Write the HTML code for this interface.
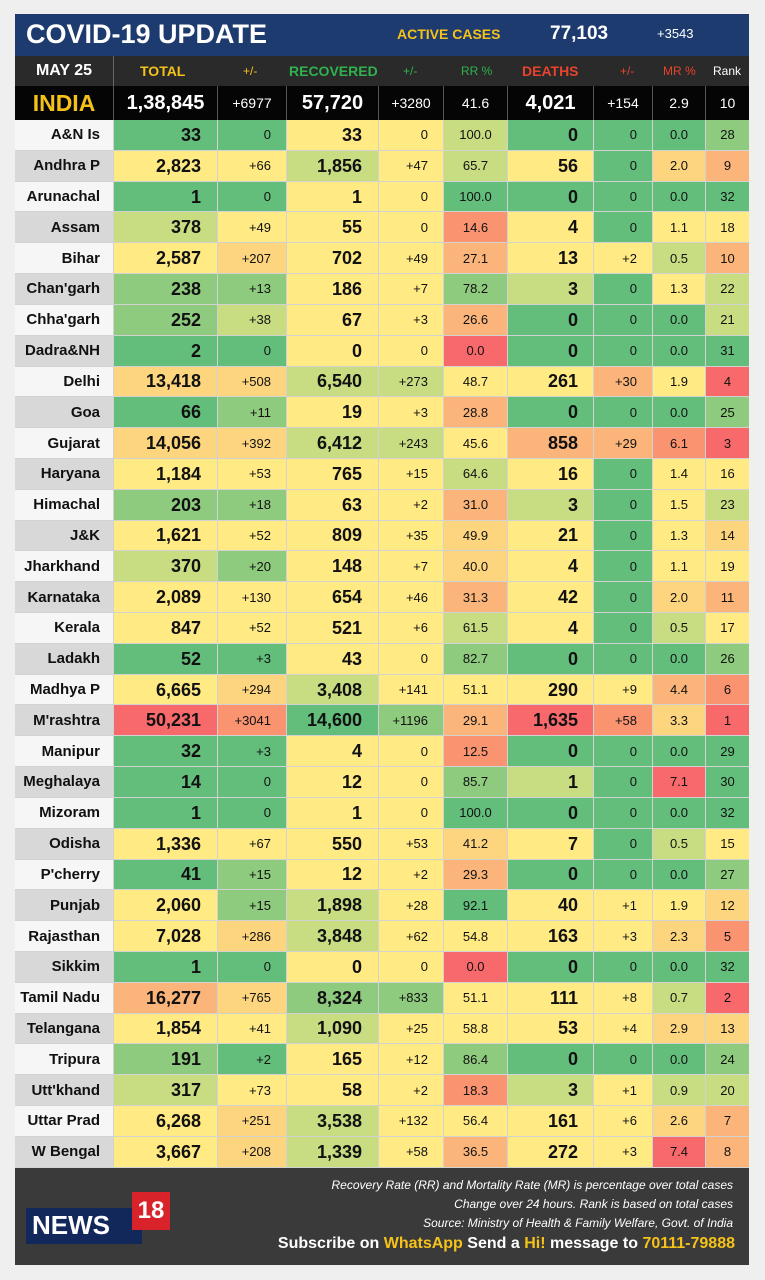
<!DOCTYPE html>
<html><head><meta charset="utf-8">
<style>
*{margin:0;padding:0;box-sizing:border-box}
body{width:765px;height:1280px;background:#efefef;position:relative;overflow:hidden;font-family:"Liberation Sans Narrow","Liberation Sans",sans-serif;color:#111}
.abs{position:absolute}
#title{left:15px;top:14px;width:734px;height:42px;background:#1e3b6f}
#hdr{left:15px;top:56px;width:734px;height:30px;background:#2a2a2a}
#ind{left:15px;top:86px;width:734px;height:34px;background:#050505}
#tbl{left:15px;top:120px;width:734px}
.r{display:flex;height:30.82px}
.r>*{display:flex;align-items:center;border-right:1px solid #d2d2d2;border-bottom:1px solid #d2d2d2;height:100%;font-style:normal;line-height:1}
.r>*:nth-child(1){width:99px;justify-content:flex-end;padding-right:13px;font-weight:bold;font-size:15px}
.r>*:nth-child(2){width:104px;justify-content:flex-end;padding-right:16px;font-weight:bold;font-size:18px}
.r>*:nth-child(3){width:69px;justify-content:flex-end;padding-right:15px;font-size:13px}
.r>*:nth-child(4){width:92px;justify-content:flex-end;padding-right:16px;font-weight:bold;font-size:18px}
.r>*:nth-child(5){width:65px;justify-content:flex-end;padding-right:15px;font-size:13px}
.r>*:nth-child(6){width:64px;justify-content:center;font-size:13px}
.r>*:nth-child(7){width:86px;justify-content:flex-end;padding-right:15px;font-weight:bold;font-size:18px}
.r>*:nth-child(8){width:59px;justify-content:flex-end;padding-right:15px;font-size:13px}
.r>*:nth-child(9){width:53px;justify-content:center;font-size:13px}
.r>*:nth-child(10){width:43px;justify-content:center;font-size:13px;border-right:none}
.r:nth-child(odd)>*:nth-child(1){background:#f6f6f6}
.r:nth-child(even)>*:nth-child(1){background:#d8d8d8}
.G{background:#63be7b}.H{background:#8fcb7e}.L{background:#c8dd82}.Y{background:#ffea84}
.Q{background:#fdd57f}.O{background:#fbb57a}.o{background:#f99370}.R{background:#f8696b}
#hdr .c,#ind .c{position:absolute;top:0;height:100%;display:flex;align-items:center}
#ind .c{color:#fff;font-weight:bold;font-size:20px;border-right:1px solid #555}
#ind .s{font-weight:normal;font-size:14px}
#foot{left:15px;top:1168px;width:734px;height:97px;background:#3a3a3a;color:#fff}
.fl{position:absolute;right:16px;font-style:italic;font-size:12px;white-space:nowrap}
</style></head><body>
<div id="title" class="abs">
  <div class="abs" style="left:11px;top:5px;color:#fff;font-weight:bold;font-size:27px;font-family:'Liberation Sans',sans-serif">COVID-19 UPDATE</div>
  <div class="abs" style="left:382px;top:12px;color:#f5c21a;font-weight:bold;font-size:14px">ACTIVE CASES</div>
  <div class="abs" style="left:535px;top:9px;color:#fff;font-weight:bold;font-size:19px">77,103</div>
  <div class="abs" style="left:642px;top:12px;color:#fff;font-size:13px">+3543</div>
</div>
<div id="hdr" class="abs">
  <div class="c" style="left:0;width:99px;justify-content:center;color:#fff;font-weight:bold;font-size:16px;border-right:1px solid #666">MAY 25</div>
  <div class="c" style="left:125px;color:#f5c21a;font-weight:bold;font-size:14px">TOTAL</div>
  <div class="c" style="left:228px;color:#f5c21a;font-size:12px">+/-</div>
  <div class="c" style="left:274px;color:#2fb14d;font-weight:bold;font-size:14px">RECOVERED</div>
  <div class="c" style="left:388px;color:#2fb14d;font-size:12px">+/-</div>
  <div class="c" style="left:446px;color:#2fb14d;font-size:12px">RR %</div>
  <div class="c" style="left:507px;color:#e8432c;font-weight:bold;font-size:14px">DEATHS</div>
  <div class="c" style="left:605px;color:#e8432c;font-size:12px">+/-</div>
  <div class="c" style="left:648px;color:#e8432c;font-size:12px">MR %</div>
  <div class="c" style="left:698px;color:#fff;font-size:12px">Rank</div>
</div>
<div id="ind" class="abs">
  <div class="c" style="left:0;width:99px;justify-content:center;color:#f5c21a;font-size:23px">INDIA</div>
  <div class="c" style="left:99px;width:104px;justify-content:center">1,38,845</div>
  <div class="c s" style="left:203px;width:69px;justify-content:center">+6977</div>
  <div class="c" style="left:272px;width:92px;justify-content:center">57,720</div>
  <div class="c s" style="left:364px;width:65px;justify-content:center">+3280</div>
  <div class="c s" style="left:429px;width:64px;justify-content:center">41.6</div>
  <div class="c" style="left:493px;width:86px;justify-content:center">4,021</div>
  <div class="c s" style="left:579px;width:59px;justify-content:center">+154</div>
  <div class="c s" style="left:638px;width:53px;justify-content:center">2.9</div>
  <div class="c s" style="left:691px;width:43px;justify-content:center;border:none">10</div>
</div>
<div id="tbl" class="abs">
<div class="r"><i>A&amp;N Is</i><i class="G">33</i><i class="G">0</i><i class="Y">33</i><i class="Y">0</i><i class="L">100.0</i><i class="G">0</i><i class="G">0</i><i class="G">0.0</i><i class="H">28</i></div>
<div class="r"><i>Andhra P</i><i class="Y">2,823</i><i class="Y">+66</i><i class="L">1,856</i><i class="Y">+47</i><i class="L">65.7</i><i class="Y">56</i><i class="G">0</i><i class="Q">2.0</i><i class="O">9</i></div>
<div class="r"><i>Arunachal</i><i class="G">1</i><i class="G">0</i><i class="Y">1</i><i class="Y">0</i><i class="G">100.0</i><i class="G">0</i><i class="G">0</i><i class="G">0.0</i><i class="G">32</i></div>
<div class="r"><i>Assam</i><i class="L">378</i><i class="Y">+49</i><i class="Y">55</i><i class="Y">0</i><i class="o">14.6</i><i class="Y">4</i><i class="G">0</i><i class="Y">1.1</i><i class="Y">18</i></div>
<div class="r"><i>Bihar</i><i class="Y">2,587</i><i class="Q">+207</i><i class="Y">702</i><i class="Y">+49</i><i class="O">27.1</i><i class="Y">13</i><i class="Y">+2</i><i class="L">0.5</i><i class="O">10</i></div>
<div class="r"><i>Chan'garh</i><i class="H">238</i><i class="H">+13</i><i class="Y">186</i><i class="Y">+7</i><i class="H">78.2</i><i class="L">3</i><i class="G">0</i><i class="Y">1.3</i><i class="L">22</i></div>
<div class="r"><i>Chha'garh</i><i class="H">252</i><i class="L">+38</i><i class="Y">67</i><i class="Y">+3</i><i class="O">26.6</i><i class="G">0</i><i class="G">0</i><i class="G">0.0</i><i class="L">21</i></div>
<div class="r"><i>Dadra&amp;NH</i><i class="G">2</i><i class="G">0</i><i class="Y">0</i><i class="Y">0</i><i class="R">0.0</i><i class="G">0</i><i class="G">0</i><i class="G">0.0</i><i class="G">31</i></div>
<div class="r"><i>Delhi</i><i class="Q">13,418</i><i class="Q">+508</i><i class="L">6,540</i><i class="L">+273</i><i class="Y">48.7</i><i class="Y">261</i><i class="O">+30</i><i class="Y">1.9</i><i class="R">4</i></div>
<div class="r"><i>Goa</i><i class="G">66</i><i class="H">+11</i><i class="Y">19</i><i class="Y">+3</i><i class="O">28.8</i><i class="G">0</i><i class="G">0</i><i class="G">0.0</i><i class="H">25</i></div>
<div class="r"><i>Gujarat</i><i class="Q">14,056</i><i class="Q">+392</i><i class="L">6,412</i><i class="L">+243</i><i class="Y">45.6</i><i class="O">858</i><i class="O">+29</i><i class="o">6.1</i><i class="R">3</i></div>
<div class="r"><i>Haryana</i><i class="Y">1,184</i><i class="Y">+53</i><i class="Y">765</i><i class="Y">+15</i><i class="L">64.6</i><i class="Y">16</i><i class="G">0</i><i class="Y">1.4</i><i class="Y">16</i></div>
<div class="r"><i>Himachal</i><i class="H">203</i><i class="H">+18</i><i class="Y">63</i><i class="Y">+2</i><i class="O">31.0</i><i class="L">3</i><i class="G">0</i><i class="Y">1.5</i><i class="L">23</i></div>
<div class="r"><i>J&amp;K</i><i class="Y">1,621</i><i class="Y">+52</i><i class="Y">809</i><i class="Y">+35</i><i class="Q">49.9</i><i class="Y">21</i><i class="G">0</i><i class="Y">1.3</i><i class="Q">14</i></div>
<div class="r"><i>Jharkhand</i><i class="L">370</i><i class="H">+20</i><i class="Y">148</i><i class="Y">+7</i><i class="Q">40.0</i><i class="Y">4</i><i class="G">0</i><i class="Y">1.1</i><i class="Y">19</i></div>
<div class="r"><i>Karnataka</i><i class="Y">2,089</i><i class="Y">+130</i><i class="Y">654</i><i class="Y">+46</i><i class="O">31.3</i><i class="Y">42</i><i class="G">0</i><i class="Q">2.0</i><i class="O">11</i></div>
<div class="r"><i>Kerala</i><i class="Y">847</i><i class="Y">+52</i><i class="Y">521</i><i class="Y">+6</i><i class="L">61.5</i><i class="Y">4</i><i class="G">0</i><i class="L">0.5</i><i class="Y">17</i></div>
<div class="r"><i>Ladakh</i><i class="G">52</i><i class="G">+3</i><i class="Y">43</i><i class="Y">0</i><i class="H">82.7</i><i class="G">0</i><i class="G">0</i><i class="G">0.0</i><i class="H">26</i></div>
<div class="r"><i>Madhya P</i><i class="Y">6,665</i><i class="Q">+294</i><i class="L">3,408</i><i class="Y">+141</i><i class="Y">51.1</i><i class="Y">290</i><i class="Y">+9</i><i class="O">4.4</i><i class="o">6</i></div>
<div class="r"><i>M'rashtra</i><i class="R">50,231</i><i class="o">+3041</i><i class="G">14,600</i><i class="H">+1196</i><i class="O">29.1</i><i class="R">1,635</i><i class="o">+58</i><i class="Q">3.3</i><i class="R">1</i></div>
<div class="r"><i>Manipur</i><i class="G">32</i><i class="G">+3</i><i class="Y">4</i><i class="Y">0</i><i class="o">12.5</i><i class="G">0</i><i class="G">0</i><i class="G">0.0</i><i class="G">29</i></div>
<div class="r"><i>Meghalaya</i><i class="G">14</i><i class="G">0</i><i class="Y">12</i><i class="Y">0</i><i class="H">85.7</i><i class="L">1</i><i class="G">0</i><i class="R">7.1</i><i class="G">30</i></div>
<div class="r"><i>Mizoram</i><i class="G">1</i><i class="G">0</i><i class="Y">1</i><i class="Y">0</i><i class="G">100.0</i><i class="G">0</i><i class="G">0</i><i class="G">0.0</i><i class="G">32</i></div>
<div class="r"><i>Odisha</i><i class="Y">1,336</i><i class="Y">+67</i><i class="Y">550</i><i class="Y">+53</i><i class="Q">41.2</i><i class="Y">7</i><i class="G">0</i><i class="L">0.5</i><i class="Y">15</i></div>
<div class="r"><i>P'cherry</i><i class="G">41</i><i class="H">+15</i><i class="Y">12</i><i class="Y">+2</i><i class="O">29.3</i><i class="G">0</i><i class="G">0</i><i class="G">0.0</i><i class="H">27</i></div>
<div class="r"><i>Punjab</i><i class="Y">2,060</i><i class="H">+15</i><i class="L">1,898</i><i class="Y">+28</i><i class="G">92.1</i><i class="Y">40</i><i class="Y">+1</i><i class="Y">1.9</i><i class="Q">12</i></div>
<div class="r"><i>Rajasthan</i><i class="Y">7,028</i><i class="Q">+286</i><i class="L">3,848</i><i class="Y">+62</i><i class="Y">54.8</i><i class="Y">163</i><i class="Y">+3</i><i class="Q">2.3</i><i class="o">5</i></div>
<div class="r"><i>Sikkim</i><i class="G">1</i><i class="G">0</i><i class="Y">0</i><i class="Y">0</i><i class="R">0.0</i><i class="G">0</i><i class="G">0</i><i class="G">0.0</i><i class="G">32</i></div>
<div class="r"><i>Tamil Nadu</i><i class="O">16,277</i><i class="Q">+765</i><i class="H">8,324</i><i class="H">+833</i><i class="Y">51.1</i><i class="Y">111</i><i class="Y">+8</i><i class="L">0.7</i><i class="R">2</i></div>
<div class="r"><i>Telangana</i><i class="Y">1,854</i><i class="Y">+41</i><i class="L">1,090</i><i class="Y">+25</i><i class="Y">58.8</i><i class="Y">53</i><i class="Y">+4</i><i class="Q">2.9</i><i class="Q">13</i></div>
<div class="r"><i>Tripura</i><i class="H">191</i><i class="G">+2</i><i class="Y">165</i><i class="Y">+12</i><i class="H">86.4</i><i class="G">0</i><i class="G">0</i><i class="G">0.0</i><i class="H">24</i></div>
<div class="r"><i>Utt'khand</i><i class="L">317</i><i class="Y">+73</i><i class="Y">58</i><i class="Y">+2</i><i class="o">18.3</i><i class="L">3</i><i class="Y">+1</i><i class="L">0.9</i><i class="L">20</i></div>
<div class="r"><i>Uttar Prad</i><i class="Y">6,268</i><i class="Q">+251</i><i class="L">3,538</i><i class="Y">+132</i><i class="Y">56.4</i><i class="Y">161</i><i class="Y">+6</i><i class="Q">2.6</i><i class="O">7</i></div>
<div class="r"><i>W Bengal</i><i class="Y">3,667</i><i class="Q">+208</i><i class="L">1,339</i><i class="Y">+58</i><i class="O">36.5</i><i class="Y">272</i><i class="Y">+3</i><i class="R">7.4</i><i class="O">8</i></div>
</div>
<div id="foot" class="abs">
  <div class="fl" style="top:10px">Recovery Rate (RR) and Mortality Rate (MR) is percentage over total cases</div>
  <div class="fl" style="top:29px">Change over 24 hours. Rank is based on total cases</div>
  <div class="fl" style="top:48px">Source: Ministry of Health &amp; Family Welfare, Govt. of India</div>
  <div class="abs" style="right:14px;top:67px;font-weight:bold;font-size:16px;white-space:nowrap">Subscribe on <span style="color:#f5c21a">WhatsApp</span> Send a <span style="color:#f5c21a">Hi!</span> message to <span style="color:#f5c21a">70111-79888</span></div>
  <div class="abs" style="left:11px;top:40px;width:116px;height:36px;background:#12275a"></div>
  <div class="abs" style="left:17px;top:42px;color:#fff;font-weight:bold;font-size:26px;font-family:'Liberation Sans',sans-serif">NEWS</div>
  <div class="abs" style="left:117px;top:24px;width:38px;height:38px;background:#d8232a;color:#fff;font-weight:bold;font-size:24px;display:flex;align-items:center;justify-content:center">18</div>
</div>
</body></html>
